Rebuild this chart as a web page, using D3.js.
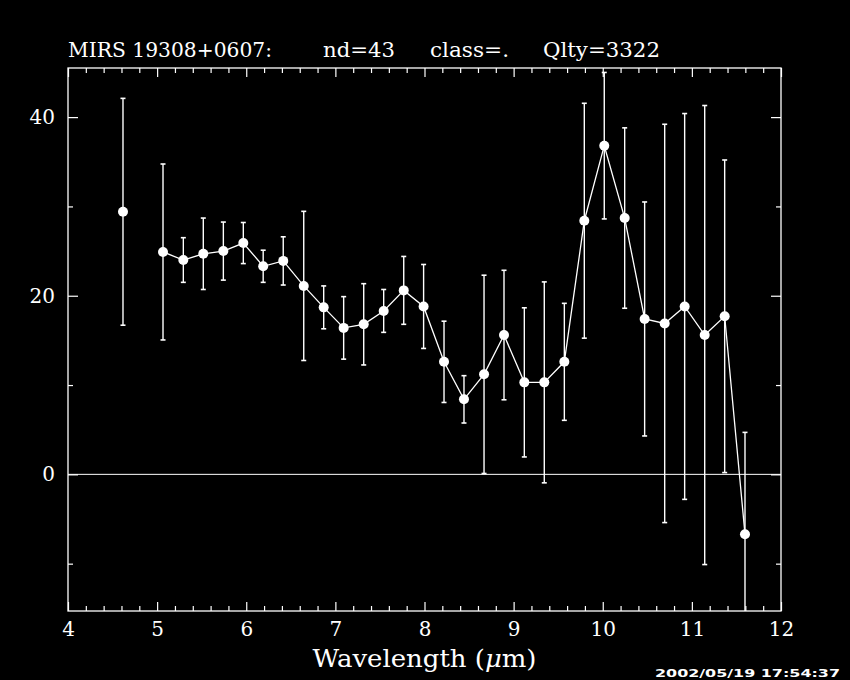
<!DOCTYPE html>
<html><head><meta charset="utf-8">
<script src="https://cdn.jsdelivr.net/npm/d3@7"></script>
<style>
html,body{margin:0;padding:0;background:#000;}
svg{display:block;}
</style></head>
<body>
<svg id="chart" width="850" height="680"></svg>
<script>
// Data
const wavelengths = [4.617, 5.066, 5.294, 5.518, 5.743, 5.967, 6.190, 6.415, 6.645, 6.869, 7.093, 7.318, 7.542, 7.767, 7.990, 8.219, 8.443, 8.668, 8.892, 9.120, 9.344, 9.569, 9.793, 10.017, 10.246, 10.470, 10.695, 10.919, 11.144, 11.368, 11.596];
const fluxValues  = [29.4, 24.9, 24.0, 24.7, 25.0, 25.9, 23.3, 23.9, 21.1, 18.7, 16.4, 16.8, 18.3, 20.6, 18.8, 12.6, 8.4, 11.2, 15.6, 10.3, 10.3, 12.6, 28.4, 36.8, 28.7, 17.4, 16.9, 18.8, 15.6, 17.7, -6.7];
const fluxErrors  = [12.7, 9.85, 2.5, 4.0, 3.25, 2.3, 1.8, 2.7, 8.35, 2.4, 3.5, 4.55, 2.4, 3.8, 4.7, 4.55, 2.65, 11.1, 7.25, 8.35, 11.25, 6.55, 13.15, 8.2, 10.1, 13.1, 22.3, 21.6, 25.7, 17.5, 11.4];
// the first point is isolated (a gap follows it); the rest are joined
const lineStartIndex = 1;
const xMajorTicks = [4, 5, 6, 7, 8, 9, 10, 11, 12];
const yMajorTicks = [0, 20, 40];
const yMinorTicks = [-10, 10, 30];
const titleParts = ["MIRS 19308+0607:", "nd=43", "class=.", "Qlty=3322"];
const timestamp = "2002/05/19 17:54:37";

const W = 850, H = 680;
const margin = {left: 68, right: 69, top: 68, bottom: 69};
const svg = d3.select("#chart");
svg.append("rect").attr("width", W).attr("height", H).attr("fill", "#000");

const x = d3.scaleLinear().domain([4, 12]).range([margin.left, W - margin.right]);
const y = d3.scaleLinear().domain([-15.3, 45.5]).range([H - margin.bottom, margin.top]);

const data = wavelengths.map((w, i) => ({w, v: fluxValues[i], e: fluxErrors[i]}));
const xMinor = d3.range(4, 12.001, 0.2).map(d => +d.toFixed(1)).filter(d => Math.abs(d - Math.round(d)) > 1e-6);

const fontSerif = "'DejaVu Serif', 'Liberation Serif', serif";

// clip
svg.append("clipPath").attr("id", "clip").append("rect")
  .attr("x", margin.left).attr("y", margin.top)
  .attr("width", W - margin.left - margin.right)
  .attr("height", H - margin.top - margin.bottom);

function styleAxis(g) {
  g.select(".domain").remove();
  g.selectAll("line").attr("stroke", "#fff").attr("stroke-width", 1.2);
  g.selectAll("text").attr("fill", "#fff").attr("font-family", fontSerif).attr("font-size", 20);
}

// bottom axis
svg.append("g").attr("transform", `translate(0,${H - margin.bottom})`)
  .call(d3.axisBottom(x).tickValues(xMajorTicks).tickSize(-9).tickPadding(11).tickFormat(d3.format("d")))
  .call(styleAxis);
svg.append("g").attr("transform", `translate(0,${H - margin.bottom})`)
  .call(d3.axisBottom(x).tickValues(xMinor).tickSize(-5).tickFormat(""))
  .call(styleAxis);
// top axis
svg.append("g").attr("transform", `translate(0,${margin.top})`)
  .call(d3.axisTop(x).tickValues(xMajorTicks).tickSize(-9).tickFormat(""))
  .call(styleAxis);
svg.append("g").attr("transform", `translate(0,${margin.top})`)
  .call(d3.axisTop(x).tickValues(xMinor).tickSize(-5).tickFormat(""))
  .call(styleAxis);
// left axis
svg.append("g").attr("transform", `translate(${margin.left},0)`)
  .call(d3.axisLeft(y).tickValues(yMajorTicks).tickSize(-10).tickPadding(13).tickFormat(d3.format("d")))
  .call(styleAxis);
svg.append("g").attr("transform", `translate(${margin.left},0)`)
  .call(d3.axisLeft(y).tickValues(yMinorTicks).tickSize(-5).tickFormat(""))
  .call(styleAxis);
// right axis
svg.append("g").attr("transform", `translate(${W - margin.right},0)`)
  .call(d3.axisRight(y).tickValues(yMajorTicks).tickSize(-10).tickFormat(""))
  .call(styleAxis);
svg.append("g").attr("transform", `translate(${W - margin.right},0)`)
  .call(d3.axisRight(y).tickValues(yMinorTicks).tickSize(-5).tickFormat(""))
  .call(styleAxis);

// frame
svg.append("rect")
  .attr("x", margin.left).attr("y", margin.top)
  .attr("width", W - margin.left - margin.right)
  .attr("height", H - margin.top - margin.bottom)
  .attr("fill", "none").attr("stroke", "#fff").attr("stroke-width", 1.3);

const plot = svg.append("g").attr("clip-path", "url(#clip)");

// zero line
plot.append("line")
  .attr("x1", x(4)).attr("x2", x(12))
  .attr("y1", y(0)).attr("y2", y(0))
  .attr("stroke", "#fff").attr("stroke-width", 1);

// error bars
const eb = plot.append("g").selectAll("g").data(data).join("g");
eb.append("line")
  .attr("x1", d => x(d.w)).attr("x2", d => x(d.w))
  .attr("y1", d => y(d.v - d.e)).attr("y2", d => y(d.v + d.e))
  .attr("stroke", "#fff").attr("stroke-width", 1.4);
eb.append("line")
  .attr("x1", d => x(d.w) - 2.5).attr("x2", d => x(d.w) + 2.5)
  .attr("y1", d => y(d.v + d.e)).attr("y2", d => y(d.v + d.e))
  .attr("stroke", "#fff").attr("stroke-width", 1.6);
eb.append("line")
  .attr("x1", d => x(d.w) - 2.5).attr("x2", d => x(d.w) + 2.5)
  .attr("y1", d => y(d.v - d.e)).attr("y2", d => y(d.v - d.e))
  .attr("stroke", "#fff").attr("stroke-width", 1.6);

// connecting line
const line = d3.line().x(d => x(d.w)).y(d => y(d.v));
plot.append("path")
  .datum(data.slice(lineStartIndex))
  .attr("d", line)
  .attr("fill", "none").attr("stroke", "#fff").attr("stroke-width", 1.3);

// markers
plot.append("g").selectAll("circle").data(data).join("circle")
  .attr("cx", d => x(d.w)).attr("cy", d => y(d.v))
  .attr("r", 5).attr("fill", "#fff");

// title (segments placed and stretched to the reference widths)
const titleX = [68, 323, 430, 543];
const titleW = [204, 72, 79, 117];
svg.append("g").selectAll("text").data(titleParts).join("text")
  .attr("x", (d, i) => titleX[i]).attr("y", 57)
  .attr("textLength", (d, i) => titleW[i]).attr("lengthAdjust", "spacingAndGlyphs")
  .attr("fill", "#fff").attr("font-family", fontSerif).attr("font-size", 20)
  .text(d => d);

// x label
const xl = svg.append("text")
  .attr("x", (x(4) + x(12)) / 2).attr("y", 667)
  .attr("text-anchor", "middle")
  .attr("textLength", 224).attr("lengthAdjust", "spacingAndGlyphs")
  .attr("fill", "#fff").attr("font-family", fontSerif).attr("font-size", 25);
xl.append("tspan").text("Wavelength (");
xl.append("tspan").attr("font-style", "italic").text("\u03bc");
xl.append("tspan").text("m)");

// timestamp
svg.append("text")
  .attr("x", 655).attr("y", 677)
  .attr("textLength", 185).attr("lengthAdjust", "spacingAndGlyphs")
  .attr("fill", "#fff").attr("font-family", "'DejaVu Sans', sans-serif")
  .attr("font-size", 10).attr("font-weight", "bold")
  .text(timestamp);
</script>
</body></html>
